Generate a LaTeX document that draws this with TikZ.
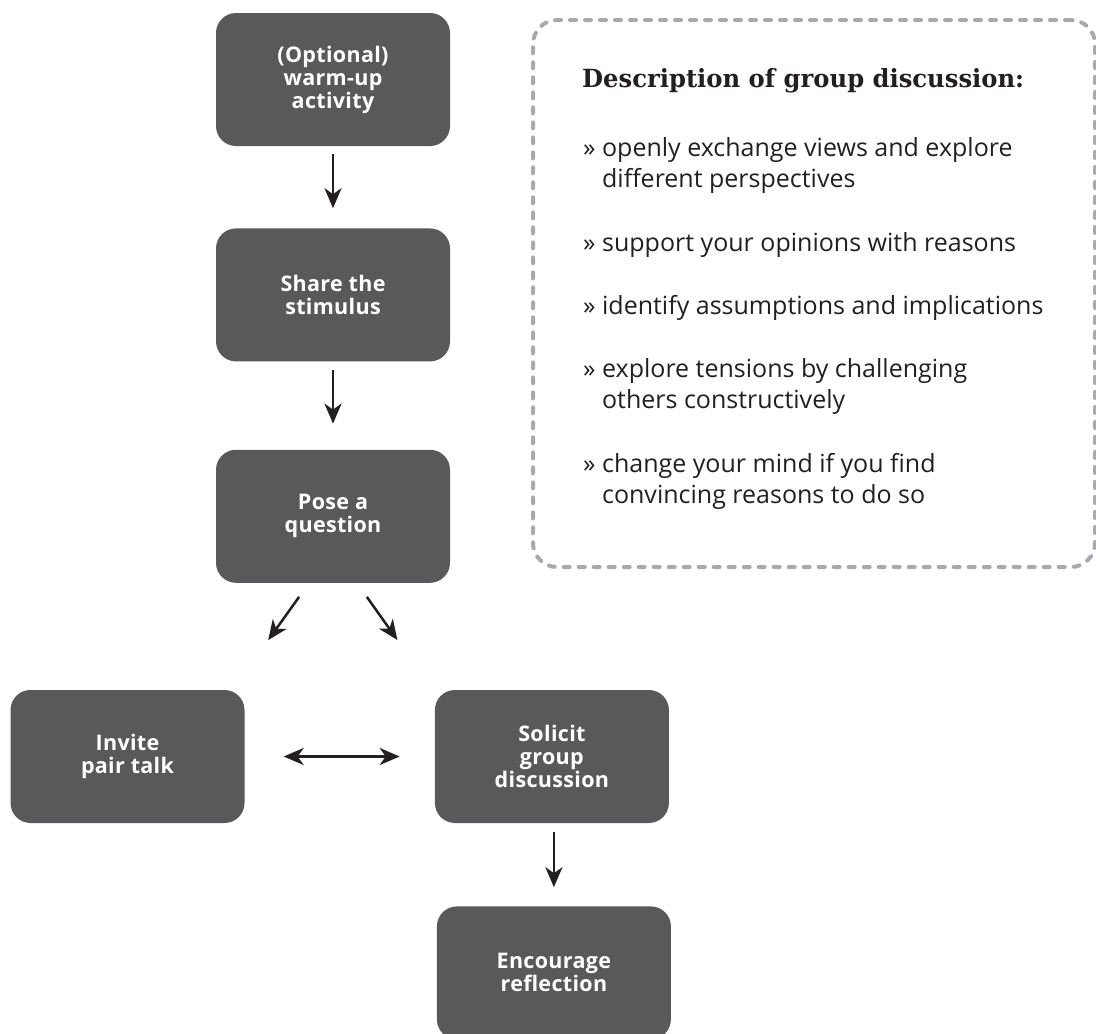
\documentclass[tikz,border=0pt]{standalone}
\usepackage{fontspec}
\usepackage{xcolor}
\usepackage{tikz}
\usetikzlibrary{positioning, arrows.meta}

\setmainfont{Open Sans}
\newfontfamily\boxfont[LetterSpace=1.5]{Open Sans}
\newfontfamily\titlefont[FakeStretch=0.97]{DejaVu Serif}

\definecolor{boxgray}{HTML}{58595B}
\definecolor{arrowblack}{HTML}{231F20}
\definecolor{dashgray}{HTML}{A7A9AC}

\begin{document}
\begin{tikzpicture}[
    x=1pt, y=1pt,
    box/.style={fill=boxgray, rounded corners=20pt, minimum width=234pt, minimum height=133pt, align=center, text=white, font=\boxfont\fontsize{21.5}{23}\selectfont\bfseries},
    arrow/.style={-{Stealth[length=20pt, width=17pt, inset=6pt]}, line width=2.5pt, draw=arrowblack},
    dbl_arrow/.style={{Stealth[length=20pt, width=17pt, inset=6pt]}-{Stealth[length=20pt, width=17pt, inset=6pt]}, line width=2.5pt, draw=arrowblack},
    dashed_box/.style={draw=dashgray, line width=4pt, dash pattern=on 6pt off 9pt, line cap=round, rounded corners=24pt},
    desc_title/.style={inner sep=0pt, text=arrowblack, font=\fontsize{25}{30}\selectfont\titlefont\bfseries},
    desc_item/.style={inner sep=0pt, align=left, text=arrowblack, font=\fontsize{25}{31}\selectfont}
]
\useasboundingbox (0,0) rectangle (1096,-1034);

% Flow boxes
\node[box] (warmup) at (333,-79.5) {(Optional)\\warm-up\\activity};
\node[box, below=82pt of warmup] (share) {Share the\\stimulus};
\node[box, below=88pt of share] (pose) {Pose a\\question};

\node[box] (pair) at (127.5,-756.5) {Invite\\pair talk};
\node[box, right=190pt of pair] (solicit) {Solicit\\group\\discussion};
\node[box, below=83pt of solicit, xshift=2pt] (reflect) {Encourage\\reflection};

% Description panel
\node[dashed_box, minimum width=562pt, minimum height=547pt, anchor=north west] (desc) at (531,-18) {};
\node[desc_title, anchor=base west] (desctitle) at ([xshift=51pt, yshift=-69pt]desc.north west) {Description of group discussion:};

\node[desc_item, anchor=north west] (p1) at ([xshift=1pt, yshift=-50pt]desctitle.base west) {» openly exchange views and explore\\\phantom{» }different perspectives};
\node[desc_item, anchor=north west] (p2) at ([yshift=-95pt]p1.north west) {» support your opinions with reasons};
\node[desc_item, anchor=north west] (p3) at ([yshift=-63pt]p2.north west) {» identify assumptions and implications};
\node[desc_item, anchor=north west] (p4) at ([yshift=-63pt]p3.north west) {» explore tensions by challenging\\\phantom{» }others constructively};
\node[desc_item, anchor=north west] (p5) at ([yshift=-95pt]p4.north west) {» change your mind if you find\\\phantom{» }convincing reasons to do so};

% Arrows
\draw[arrow, shorten <=8pt, shorten >=20pt] (warmup) -- (share);
\draw[arrow, shorten <=8pt, shorten >=26pt] (share) -- (pose);
\draw[arrow, shorten <=17pt, shorten >=61pt] ([xshift=-24pt]pose.south) -- ([xshift=-12pt]pair.north east);
\draw[arrow, shorten <=17pt, shorten >=61pt] ([xshift=24pt]pose.south) -- ([xshift=-2pt]solicit.north west);
\draw[dbl_arrow, shorten <=39pt, shorten >=35pt] (pair) -- (solicit);
\draw[arrow, shorten <=9pt, shorten >=19pt] (solicit.south -| reflect) -- (reflect);

\end{tikzpicture}
\end{document}
